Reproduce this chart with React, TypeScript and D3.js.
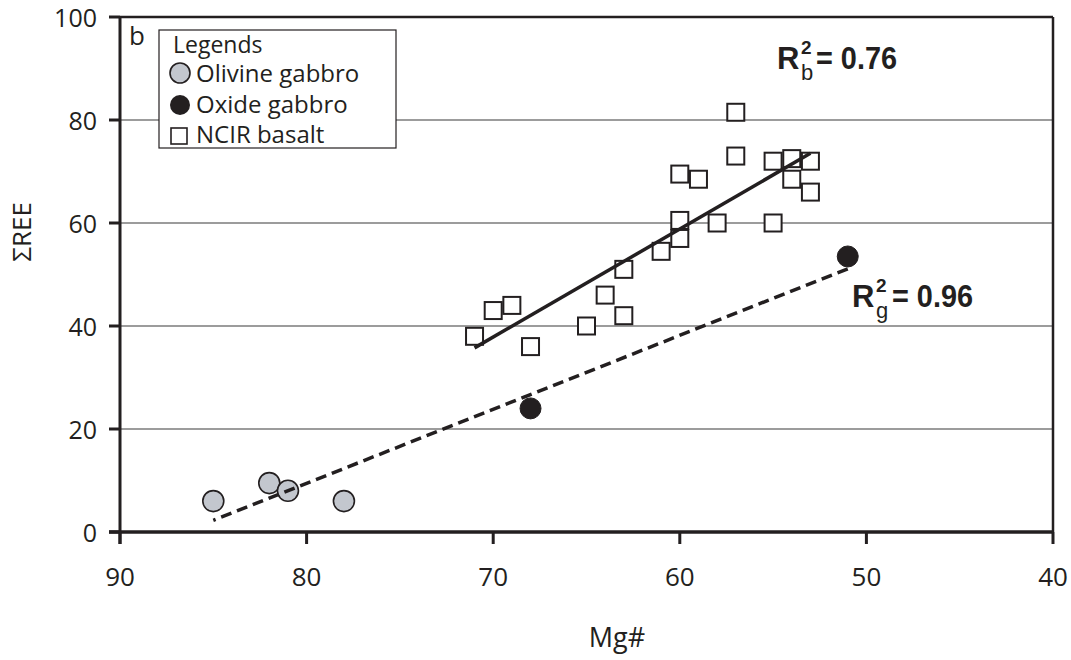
import * as d3 from "d3";
import React from "react";

// olivine gabbro (grey circles)
const olivineMg = [85, 82, 81, 78];
const olivineRee = [6, 9.5, 8, 6];
// oxide gabbro (black circles)
const oxideMg = [68, 51];
const oxideRee = [24, 53.5];
// NCIR basalt (open squares)
const basaltMg = [71, 70, 69, 68, 65, 64, 63, 63, 61, 60, 60, 60, 59, 58, 57, 57, 55, 55, 54, 54, 53, 53];
const basaltRee = [38, 43, 44, 36, 40, 46, 42, 51, 54.5, 60.5, 57, 69.5, 68.5, 60, 81.5, 73, 72, 60, 72.5, 68.5, 72, 66];

const xTicks = [90, 80, 70, 60, 50, 40];
const yTicks = [0, 20, 40, 60, 80, 100];
const gridTicks = [20, 40, 60, 80];

const W = 1071;
const H = 660;
const margin = { top: 17, right: 18, bottom: 128, left: 120 };
const ink = "#231f20";
const sans = "'Open Sans', 'Noto Sans', sans-serif";
const bold = "'Liberation Sans', Arial, sans-serif";

// least squares fit, drawn across the x extent of the data
function fit(xs: number[], ys: number[]) {
  const mx = d3.mean(xs)!;
  const my = d3.mean(ys)!;
  let sxy = 0, sxx = 0;
  xs.forEach((x, i) => {
    sxy += (x - mx) * (ys[i] - my);
    sxx += (x - mx) * (x - mx);
  });
  const b = sxy / sxx;
  const a = my - b * mx;
  const [x0, x1] = d3.extent(xs) as [number, number];
  return [
    [x0, a + b * x0],
    [x1, a + b * x1],
  ];
}

export default function App() {
  const x = d3.scaleLinear().domain([90, 40]).range([margin.left, W - margin.right]);
  const y = d3.scaleLinear().domain([0, 100]).range([H - margin.bottom, margin.top]);
  const line = d3.line<number[]>().x(d => x(d[0])).y(d => y(d[1]));

  const gabbroMg = [...olivineMg, ...oxideMg];
  const gabbroRee = [...olivineRee, ...oxideRee];
  const basaltFit = fit(basaltMg, basaltRee);
  const gabbroFit = fit(gabbroMg, gabbroRee);

  const x0 = x.range()[0], x1 = x.range()[1];
  const y0 = y.range()[0], y1 = y.range()[1];
  const sq = 17;

  return (
    <svg width={W} height={H} style={{ position: "absolute", left: 0, top: 0, background: "#fff" }}>
      {/* grid */}
      {gridTicks.map(t => (
        <line key={t} x1={x0} x2={x1} y1={y(t)} y2={y(t)} stroke="#3a3a3a" strokeWidth={1.1} />
      ))}

      {/* frame */}
      <line x1={x0} x2={x1} y1={y1} y2={y1} stroke={ink} strokeWidth={2.5} />
      <line x1={x1} x2={x1} y1={y1} y2={y0} stroke={ink} strokeWidth={2.5} />
      <line x1={x0} x2={x0} y1={y1 - 1} y2={y0 + 12} stroke={ink} strokeWidth={3} />
      <line x1={x0 - 11} x2={x1 + 1} y1={y0} y2={y0} stroke={ink} strokeWidth={3.5} />

      {/* y axis */}
      {yTicks.map(t => (
        <g key={t}>
          <line x1={x0 - 11} x2={x0} y1={y(t)} y2={y(t)} stroke={ink} strokeWidth={3} />
          <text x={97} y={y(t) + 10} textAnchor="end" fontFamily={sans} fontSize={25} fill={ink}>{t}</text>
        </g>
      ))}
      <text transform={`translate(31,232) rotate(-90)`} textAnchor="middle" fontFamily={sans} fontSize={26} fill={ink}>ΣREE</text>

      {/* x axis */}
      {xTicks.map(t => (
        <g key={t}>
          <line x1={x(t)} x2={x(t)} y1={y0} y2={y0 + 12} stroke={ink} strokeWidth={3} />
          <text x={x(t)} y={586} textAnchor="middle" fontFamily={sans} fontSize={26} fill={ink}>{t}</text>
        </g>
      ))}
      <text x={617} y={647} textAnchor="middle" fontFamily={sans} fontSize={27} fill={ink}>Mg#</text>

      {/* panel label */}
      <text x={129} y={45} fontFamily={sans} fontSize={26} fill={ink}>b</text>

      {/* points */}
      {basaltMg.map((m, i) => (
        <rect key={"b" + i} x={x(m) - sq / 2} y={y(basaltRee[i]) - sq / 2} width={sq} height={sq}
          fill="#fff" stroke={ink} strokeWidth={2} />
      ))}
      {olivineMg.map((m, i) => (
        <circle key={"o" + i} cx={x(m)} cy={y(olivineRee[i])} r={10.5} fill="#c3c7ce" stroke={ink} strokeWidth={1.6} />
      ))}
      {oxideMg.map((m, i) => (
        <circle key={"x" + i} cx={x(m)} cy={y(oxideRee[i])} r={10.5} fill={ink} stroke={ink} strokeWidth={1} />
      ))}

      {/* regression lines */}
      <path d={line(basaltFit) ?? ""} fill="none" stroke={ink} strokeWidth={3.5} />
      <path d={line(gabbroFit) ?? ""} fill="none" stroke={ink} strokeWidth={3.5} strokeDasharray="11 6" />

      {/* R² labels */}
      <g fontFamily={bold} fill={ink}>
        <text x={777} y={69} fontSize={31} fontWeight="bold">R</text>
        <text x={801} y={54} fontSize={19} fontWeight="bold">2</text>
        <text x={801} y={80} fontSize={22}>b</text>
        <text x={816} y={69} fontSize={31} fontWeight="bold" textLength={81} lengthAdjust="spacingAndGlyphs">= 0.76</text>

        <text x={852} y={307} fontSize={31} fontWeight="bold">R</text>
        <text x={876} y={292} fontSize={19} fontWeight="bold">2</text>
        <text x={876} y={318} fontSize={22}>g</text>
        <text x={892} y={307} fontSize={31} fontWeight="bold" textLength={81} lengthAdjust="spacingAndGlyphs">= 0.96</text>
      </g>

      {/* legend */}
      <rect x={159} y={30} width={237} height={118} fill="#fff" stroke={ink} strokeWidth={1.2} />
      <text x={173} y={53} fontFamily={sans} fontSize={23} fill={ink}>Legends</text>
      <circle cx={180} cy={73} r={10} fill="#c3c7ce" stroke={ink} strokeWidth={1.6} />
      <text x={196} y={82} fontFamily={sans} fontSize={24} fill={ink}>Olivine gabbro</text>
      <circle cx={180} cy={105} r={10} fill={ink} />
      <text x={196} y={113} fontFamily={sans} fontSize={24} fill={ink}>Oxide gabbro</text>
      <rect x={171} y={128} width={16} height={16} fill="#fff" stroke={ink} strokeWidth={1.6} />
      <text x={196} y={143} fontFamily={sans} fontSize={24} fill={ink}>NCIR basalt</text>
    </svg>
  );
}
